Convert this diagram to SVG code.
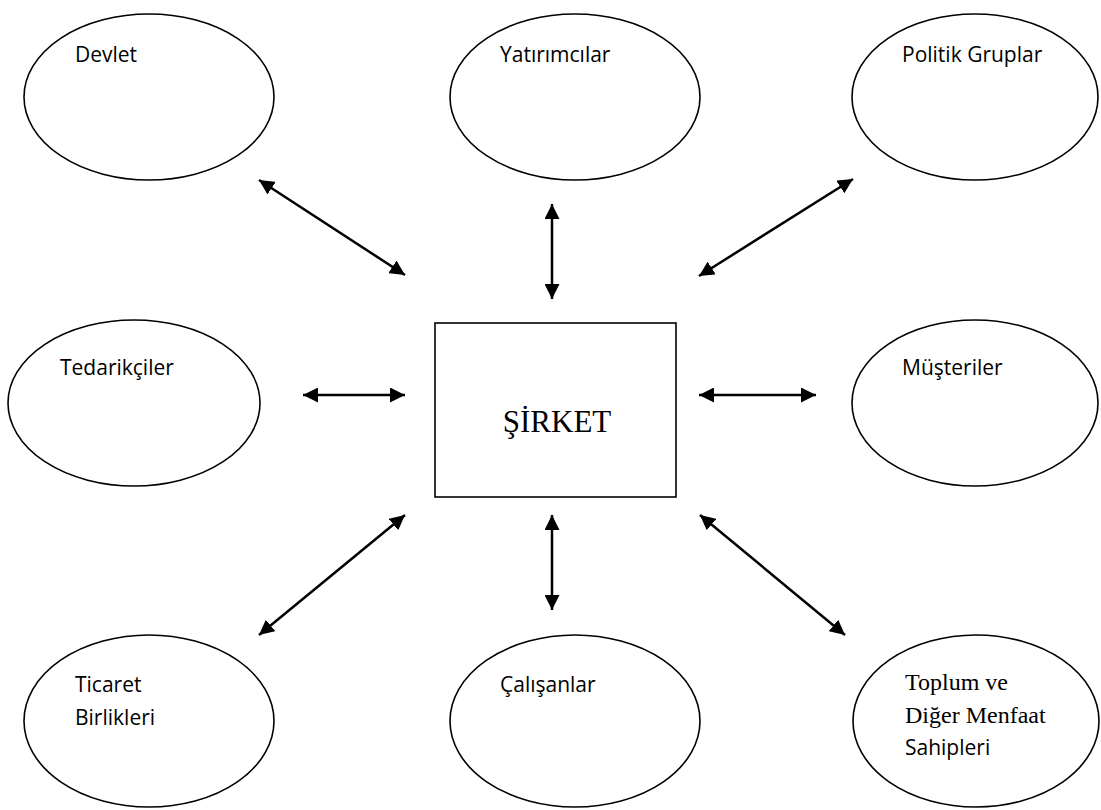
<svg xmlns="http://www.w3.org/2000/svg" width="1101" height="810" viewBox="0 0 1101 810">
<style>
.node ellipse, .node rect { fill: #fff; stroke: #000; stroke-width: 1.6; }
.lbl { font-family: "Open Sans", "Liberation Sans", sans-serif; font-size: 21px; fill: #000; }
.ser { font-family: "Liberation Serif", "Times New Roman", serif; font-size: 24px; fill: #000; }
.conn line { stroke: #000; stroke-width: 2.5; marker-start: url(#ah); marker-end: url(#ah); }
</style>
<defs>
<marker id="ah" markerUnits="userSpaceOnUse" markerWidth="15" markerHeight="15" refX="15" refY="7.5" orient="auto-start-reverse">
<path d="M0,0 L15,7.5 L0,15 z" fill="#000"/>
</marker>
</defs>
<rect width="1101" height="810" fill="#fff"/>
<g id="n-devlet" class="node"><ellipse cx="149" cy="97" rx="125" ry="83"/><text class="lbl" x="75" y="62">Devlet</text></g>
<g id="n-yatirimcilar" class="node"><ellipse cx="575" cy="97" rx="125" ry="83"/><text class="lbl" x="500" y="62">Yatırımcılar</text></g>
<g id="n-politik" class="node"><ellipse cx="975" cy="97" rx="123" ry="83"/><text class="lbl" x="902" y="62">Politik Gruplar</text></g>
<g id="n-tedarikciler" class="node"><ellipse cx="134" cy="403" rx="126" ry="83"/><text class="lbl" x="60" y="375">Tedarikçiler</text></g>
<g id="n-musteriler" class="node"><ellipse cx="975" cy="403" rx="123" ry="83"/><text class="lbl" x="902" y="375">Müşteriler</text></g>
<g id="n-ticaret" class="node"><ellipse cx="149" cy="721" rx="125" ry="86"/><text class="lbl" x="75" y="692">Ticaret</text><text class="lbl" x="75" y="725">Birlikleri</text></g>
<g id="n-calisanlar" class="node"><ellipse cx="575" cy="721" rx="125" ry="86"/><text class="lbl" x="500" y="692">Çalışanlar</text></g>
<g id="n-toplum" class="node"><ellipse cx="976" cy="721" rx="123" ry="86"/><text class="ser" x="905" y="690">Toplum ve</text><text class="ser" x="905" y="723">Diğer Menfaat</text><text class="lbl" x="905" y="755">Sahipleri</text></g>
<g id="n-sirket" class="node"><rect x="435" y="323" width="241" height="174"/><text x="557" y="432" text-anchor="middle" style="font-family:'Liberation Serif','Times New Roman',serif;font-size:31px;fill:#000">ŞİRKET</text></g>
<g id="connectors" class="conn">
<line x1="259" y1="180" x2="405" y2="275"/>
<line x1="552" y1="204" x2="552" y2="299"/>
<line x1="853" y1="179" x2="699" y2="276"/>
<line x1="303" y1="395" x2="405" y2="395"/>
<line x1="699" y1="395" x2="816" y2="395"/>
<line x1="405" y1="515" x2="259" y2="635"/>
<line x1="552" y1="515" x2="552" y2="610"/>
<line x1="700" y1="515" x2="845" y2="635"/>
</g>
</svg>
